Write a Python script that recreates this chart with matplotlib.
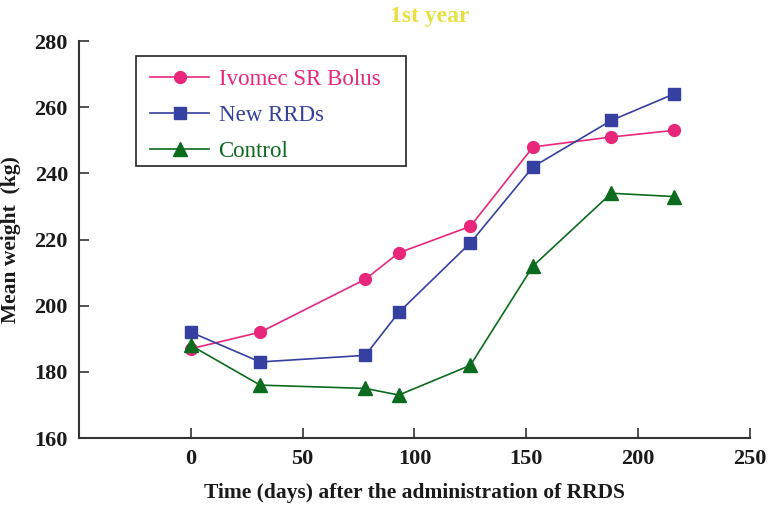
import matplotlib
matplotlib.use("Agg")
import matplotlib.pyplot as plt
from matplotlib.patches import Rectangle

# Days after administration and mean weights (kg)
days = [0, 31, 78, 93, 125, 153, 188, 216]
ivomec = [187, 192, 208, 216, 224, 248, 251, 253]
new_rrds = [192, 183, 185, 198, 219, 242, 256, 264]
control = [188, 176, 175, 173, 182, 212, 234, 233]

series_names = ["Ivomec SR Bolus", "New RRDs", "Control"]
x_ticks = [0, 50, 100, 150, 200, 250]
y_ticks = [160, 180, 200, 220, 240, 260, 280]

plt.rcParams["font.family"] = ["Liberation Serif", "DejaVu Serif"]

fig = plt.figure(figsize=(7.7, 5.07), dpi=100)
ax = fig.add_axes([0.1026, 0.136, 0.8714, 0.783])

pink = "#E8267A"
blue = "#3540A0"
green = "#0B6B1E"

ax.plot(days, ivomec, color=pink, lw=1.2, marker="o", ms=8.5, label=series_names[0])
ax.plot(days, new_rrds, color=blue, lw=1.2, marker="s", ms=9, label=series_names[1])
ax.plot(days, control, color=green, lw=1.2, marker="^", ms=10, label=series_names[2])

ax.set_xlim(-50, 250)
ax.set_ylim(160, 280)
ax.set_xticks(x_ticks)
ax.set_yticks(y_ticks)
for s in ["top", "right"]:
    ax.spines[s].set_visible(False)
for s in ["left", "bottom"]:
    ax.spines[s].set_color("#333333")
    ax.spines[s].set_linewidth(1.5)
ax.tick_params(direction="in", length=7, width=1.2, color="#333333",
               labelsize=16, pad=8)
for lab in ax.get_xticklabels() + ax.get_yticklabels():
    lab.set_fontweight("bold")
    lab.set_color("#1a1a1a")

ax.set_xlabel("Time (days) after the administration of RRDS", fontsize=15.5,
              fontweight="bold", labelpad=10, color="#1a1a1a")
ax.set_ylabel("Mean weight  (kg)", fontsize=15.5, fontweight="bold",
              labelpad=10, color="#1a1a1a")

fig.text(0.558, 0.968, "1st year", ha="center", va="center", fontsize=17,
         fontweight="bold", color="#E8E040")

leg = ax.legend(loc="upper left", bbox_to_anchor=(0.085, 0.965), borderaxespad=0,
                fontsize=16.5, frameon=False, borderpad=0.6,
                handlelength=2.6, labelspacing=0.66, handletextpad=0.4)
for txt, c in zip(leg.get_texts(), [pink, blue, green]):
    txt.set_color(c)

# legend frame
ax.add_patch(Rectangle((0.085, 0.685), 0.402, 0.277, transform=ax.transAxes,
                       facecolor="none", edgecolor="#222222", lw=1.2,
                       clip_on=False, zorder=5))

fig.savefig("out.png", dpi=100)
